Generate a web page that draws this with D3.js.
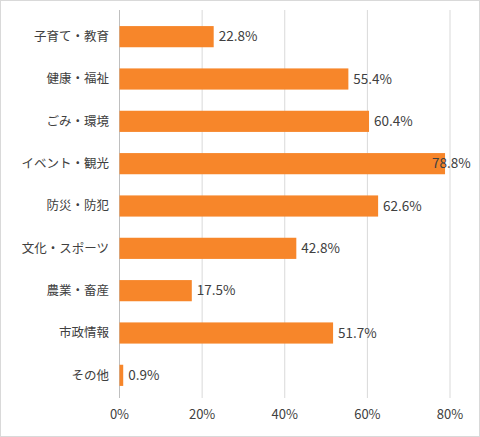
<!DOCTYPE html>
<html><head><meta charset="utf-8">
<script src="https://cdn.jsdelivr.net/npm/d3@7"></script>
<style>body{margin:0;background:#fff;font-family:"Noto Sans CJK JP","Noto Sans",sans-serif;}</style>
</head><body><div id="chart"></div>
<script>
"use strict";

let categories = ['子育て・教育','健康・福祉','ごみ・環境','イベント・観光','防災・防犯','文化・スポーツ','農業・畜産','市政情報','その他'];
let values = [22.8, 55.4, 60.4, 78.8, 62.6, 42.8, 17.5, 51.7, 0.9];
let ticks = [0, 20, 40, 60, 80];

const W = 480, H = 437;
let svg = d3.select('#chart').append('svg').attr('width', W).attr('height', H);

svg.append('rect').attr('x', 0.5).attr('y', 0.5).attr('width', W - 1).attr('height', H - 1)
   .attr('fill', '#fff').attr('stroke', '#d9d9d9');

let x = d3.scaleLinear().domain([0, 80]).range([119.5, 450]);
let y = d3.scaleBand().domain(categories).range([15.5, 396.5]).paddingInner(0.5).paddingOuter(0.25);

svg.selectAll('line.grid').data(ticks).enter().append('line')
   .attr('class', 'grid')
   .attr('x1', d => x(d)).attr('x2', d => x(d))
   .attr('y1', 10).attr('y2', 398)
   .attr('stroke', d => d === 0 ? '#bfbfbf' : '#d9d9d9');

svg.selectAll('rect.bar').data(values).enter().append('rect')
   .attr('class', 'bar')
   .attr('x', x(0))
   .attr('y', (d, i) => y(categories[i]))
   .attr('width', d => x(d) - x(0))
   .attr('height', y.bandwidth())
   .attr('fill', '#f7862a');

// labels that would run off the right edge are pulled back over the bar
svg.selectAll('text.val').data(values).enter().append('text')
   .attr('class', 'val')
   .attr('x', d => Math.min(x(d) + 5, W - 48))
   .attr('y', (d, i) => y(categories[i]) + y.bandwidth() / 2)
   .attr('dy', '0.35em')
   .attr('font-size', 13.5).attr('fill', '#404040')
   .text(d => d.toFixed(1) + '%');

svg.selectAll('text.cat').data(categories).enter().append('text')
   .attr('class', 'cat')
   .attr('x', 109)
   .attr('y', d => y(d) + y.bandwidth() / 2)
   .attr('dy', '0.35em')
   .attr('text-anchor', 'end')
   .attr('font-size', 12.5).attr('fill', '#404040')
   .text(d => d);

svg.selectAll('text.tick').data(ticks).enter().append('text')
   .attr('class', 'tick')
   .attr('x', d => x(d))
   .attr('y', 419)
   .attr('text-anchor', 'middle')
   .attr('font-size', 13).attr('fill', '#404040')
   .text(d => d + '%');
</script></body></html>
